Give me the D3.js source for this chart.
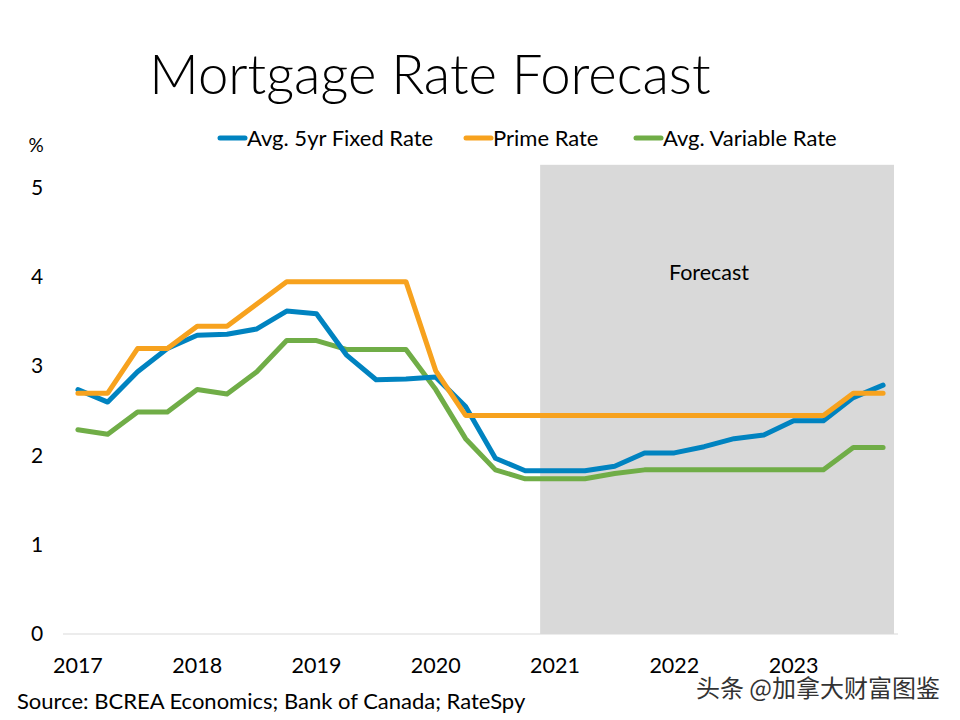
<!DOCTYPE html>
<html>
<head>
<meta charset="utf-8">
<script src="https://cdn.jsdelivr.net/npm/d3@7"></script>
<style>
  html, body { margin: 0; padding: 0; background: #fff; }
  svg { display: block; }
  text { font-family: Lato, "Open Sans", sans-serif; fill: #000; }
</style>
</head>
<body>
<svg id="chart" width="960" height="720"></svg>
<script>
// ---- data ----
const quarters = [
  "2017Q1","2017Q2","2017Q3","2017Q4",
  "2018Q1","2018Q2","2018Q3","2018Q4",
  "2019Q1","2019Q2","2019Q3","2019Q4",
  "2020Q1","2020Q2","2020Q3","2020Q4",
  "2021Q1","2021Q2","2021Q3","2021Q4",
  "2022Q1","2022Q2","2022Q3","2022Q4",
  "2023Q1","2023Q2","2023Q3","2023Q4"
];
const yearLabels = ["2017","2018","2019","2020","2021","2022","2023"];
const fixedRate = [2.74, 2.60, 2.94, 3.20, 3.35, 3.36, 3.42, 3.62, 3.59, 3.13, 2.85, 2.86,
                   2.88, 2.55, 1.97, 1.83, 1.83, 1.83, 1.88, 2.03, 2.03, 2.10, 2.19, 2.23,
                   2.39, 2.39, 2.65, 2.79];
const primeRate = [2.70, 2.70, 3.20, 3.20, 3.45, 3.45, 3.70, 3.95, 3.95, 3.95, 3.95, 3.95,
                   2.95, 2.45, 2.45, 2.45, 2.45, 2.45, 2.45, 2.45, 2.45, 2.45, 2.45, 2.45,
                   2.45, 2.45, 2.70, 2.70];
const variableRate = [2.29, 2.24, 2.49, 2.49, 2.74, 2.69, 2.94, 3.29, 3.29, 3.19, 3.19, 3.19,
                      2.74, 2.19, 1.84, 1.74, 1.74, 1.74, 1.80, 1.84, 1.84, 1.84, 1.84, 1.84,
                      1.84, 1.84, 2.09, 2.09];
const yTicks = [0, 1, 2, 3, 4, 5];
const forecastStart = "2021Q1";
const forecastEnd = "2023Q4";
const forecastTop = 5.26;
const seriesNames = ["Avg. 5yr Fixed Rate", "Prime Rate", "Avg. Variable Rate"];
const seriesColors = ["#0083C0", "#F7A21E", "#70AD47"];

// ---- chart ----
const svg = d3.select("#chart");
const x = d3.scaleBand().domain(quarters).range([63, 898]).paddingInner(0).paddingOuter(0);
const y = d3.scaleLinear().domain([0, 5]).range([634, 188]);
const cx = q => x(q) + x.bandwidth() / 2;

// title
svg.append("text").attr("x", 430).attr("y", 94).attr("text-anchor", "middle")
  .style("font-size", "54.5px").style("font-weight", 300)
  .text("Mortgage Rate Forecast");

// forecast shading
svg.append("rect")
  .attr("x", x(forecastStart))
  .attr("y", y(forecastTop))
  .attr("width", x(forecastEnd) + x.bandwidth() - x(forecastStart) - 4)
  .attr("height", y(0) - y(forecastTop))
  .attr("fill", "#D9D9D9");
svg.append("text").attr("x", 709).attr("y", 280).attr("text-anchor", "middle")
  .style("font-size", "21.5px").text("Forecast");

// x axis line
svg.append("line").attr("x1", x.range()[0]).attr("x2", x.range()[1])
  .attr("y1", y(0)).attr("y2", y(0)).attr("stroke", "#D9D9D9").attr("stroke-width", 1.2);

// y tick labels
svg.selectAll(".ytick").data(yTicks).enter().append("text")
  .attr("x", 37).attr("y", d => y(d) + 7).attr("text-anchor", "middle")
  .style("font-size", "21px").text(d => d);
svg.append("text").attr("x", 36).attr("y", 152).attr("text-anchor", "middle")
  .style("font-size", "19px").text("%");

// x labels
svg.selectAll(".xtick").data(yearLabels).enter().append("text")
  .attr("x", d => cx(d + "Q1")).attr("y", 673).attr("text-anchor", "middle")
  .style("font-size", "21.5px").text(d => d);

// lines
const allSeries = [fixedRate, primeRate, variableRate];
const line = d3.line().x((d, i) => cx(quarters[i])).y(d => y(d));
const drawOrder = [2, 0, 1];
drawOrder.forEach(k => {
  svg.append("path").datum(allSeries[k]).attr("d", line)
    .attr("fill", "none").attr("stroke", seriesColors[k]).attr("stroke-width", 5)
    .attr("stroke-linejoin", "round").attr("stroke-linecap", "round");
});

// legend
const legendX = [220, 466, 636];
seriesNames.forEach((name, k) => {
  const g = svg.append("g").attr("transform", `translate(${legendX[k]},138)`);
  g.append("line").attr("x1", 0).attr("x2", 25).attr("y1", 0).attr("y2", 0)
    .attr("stroke", seriesColors[k]).attr("stroke-width", 5).attr("stroke-linecap", "round");
  g.append("text").attr("x", 27).attr("y", 7.5).style("font-size", "22px").text(name);
});

// source
svg.append("text").attr("x", 17).attr("y", 709).style("font-size", "22px")
  .text("Source: BCREA Economics; Bank of Canada; RateSpy");

// watermark
svg.append("text").attr("x", 940).attr("y", 697).attr("text-anchor", "end")
  .style("font-family", "'Noto Sans CJK SC', sans-serif").style("font-size", "24px")
  .attr("fill", "#333").style("fill", "#333")
  .attr("stroke", "#fff").attr("stroke-width", 3).attr("paint-order", "stroke")
  .text("头条 @加拿大财富图鉴");
</script>
</body>
</html>
